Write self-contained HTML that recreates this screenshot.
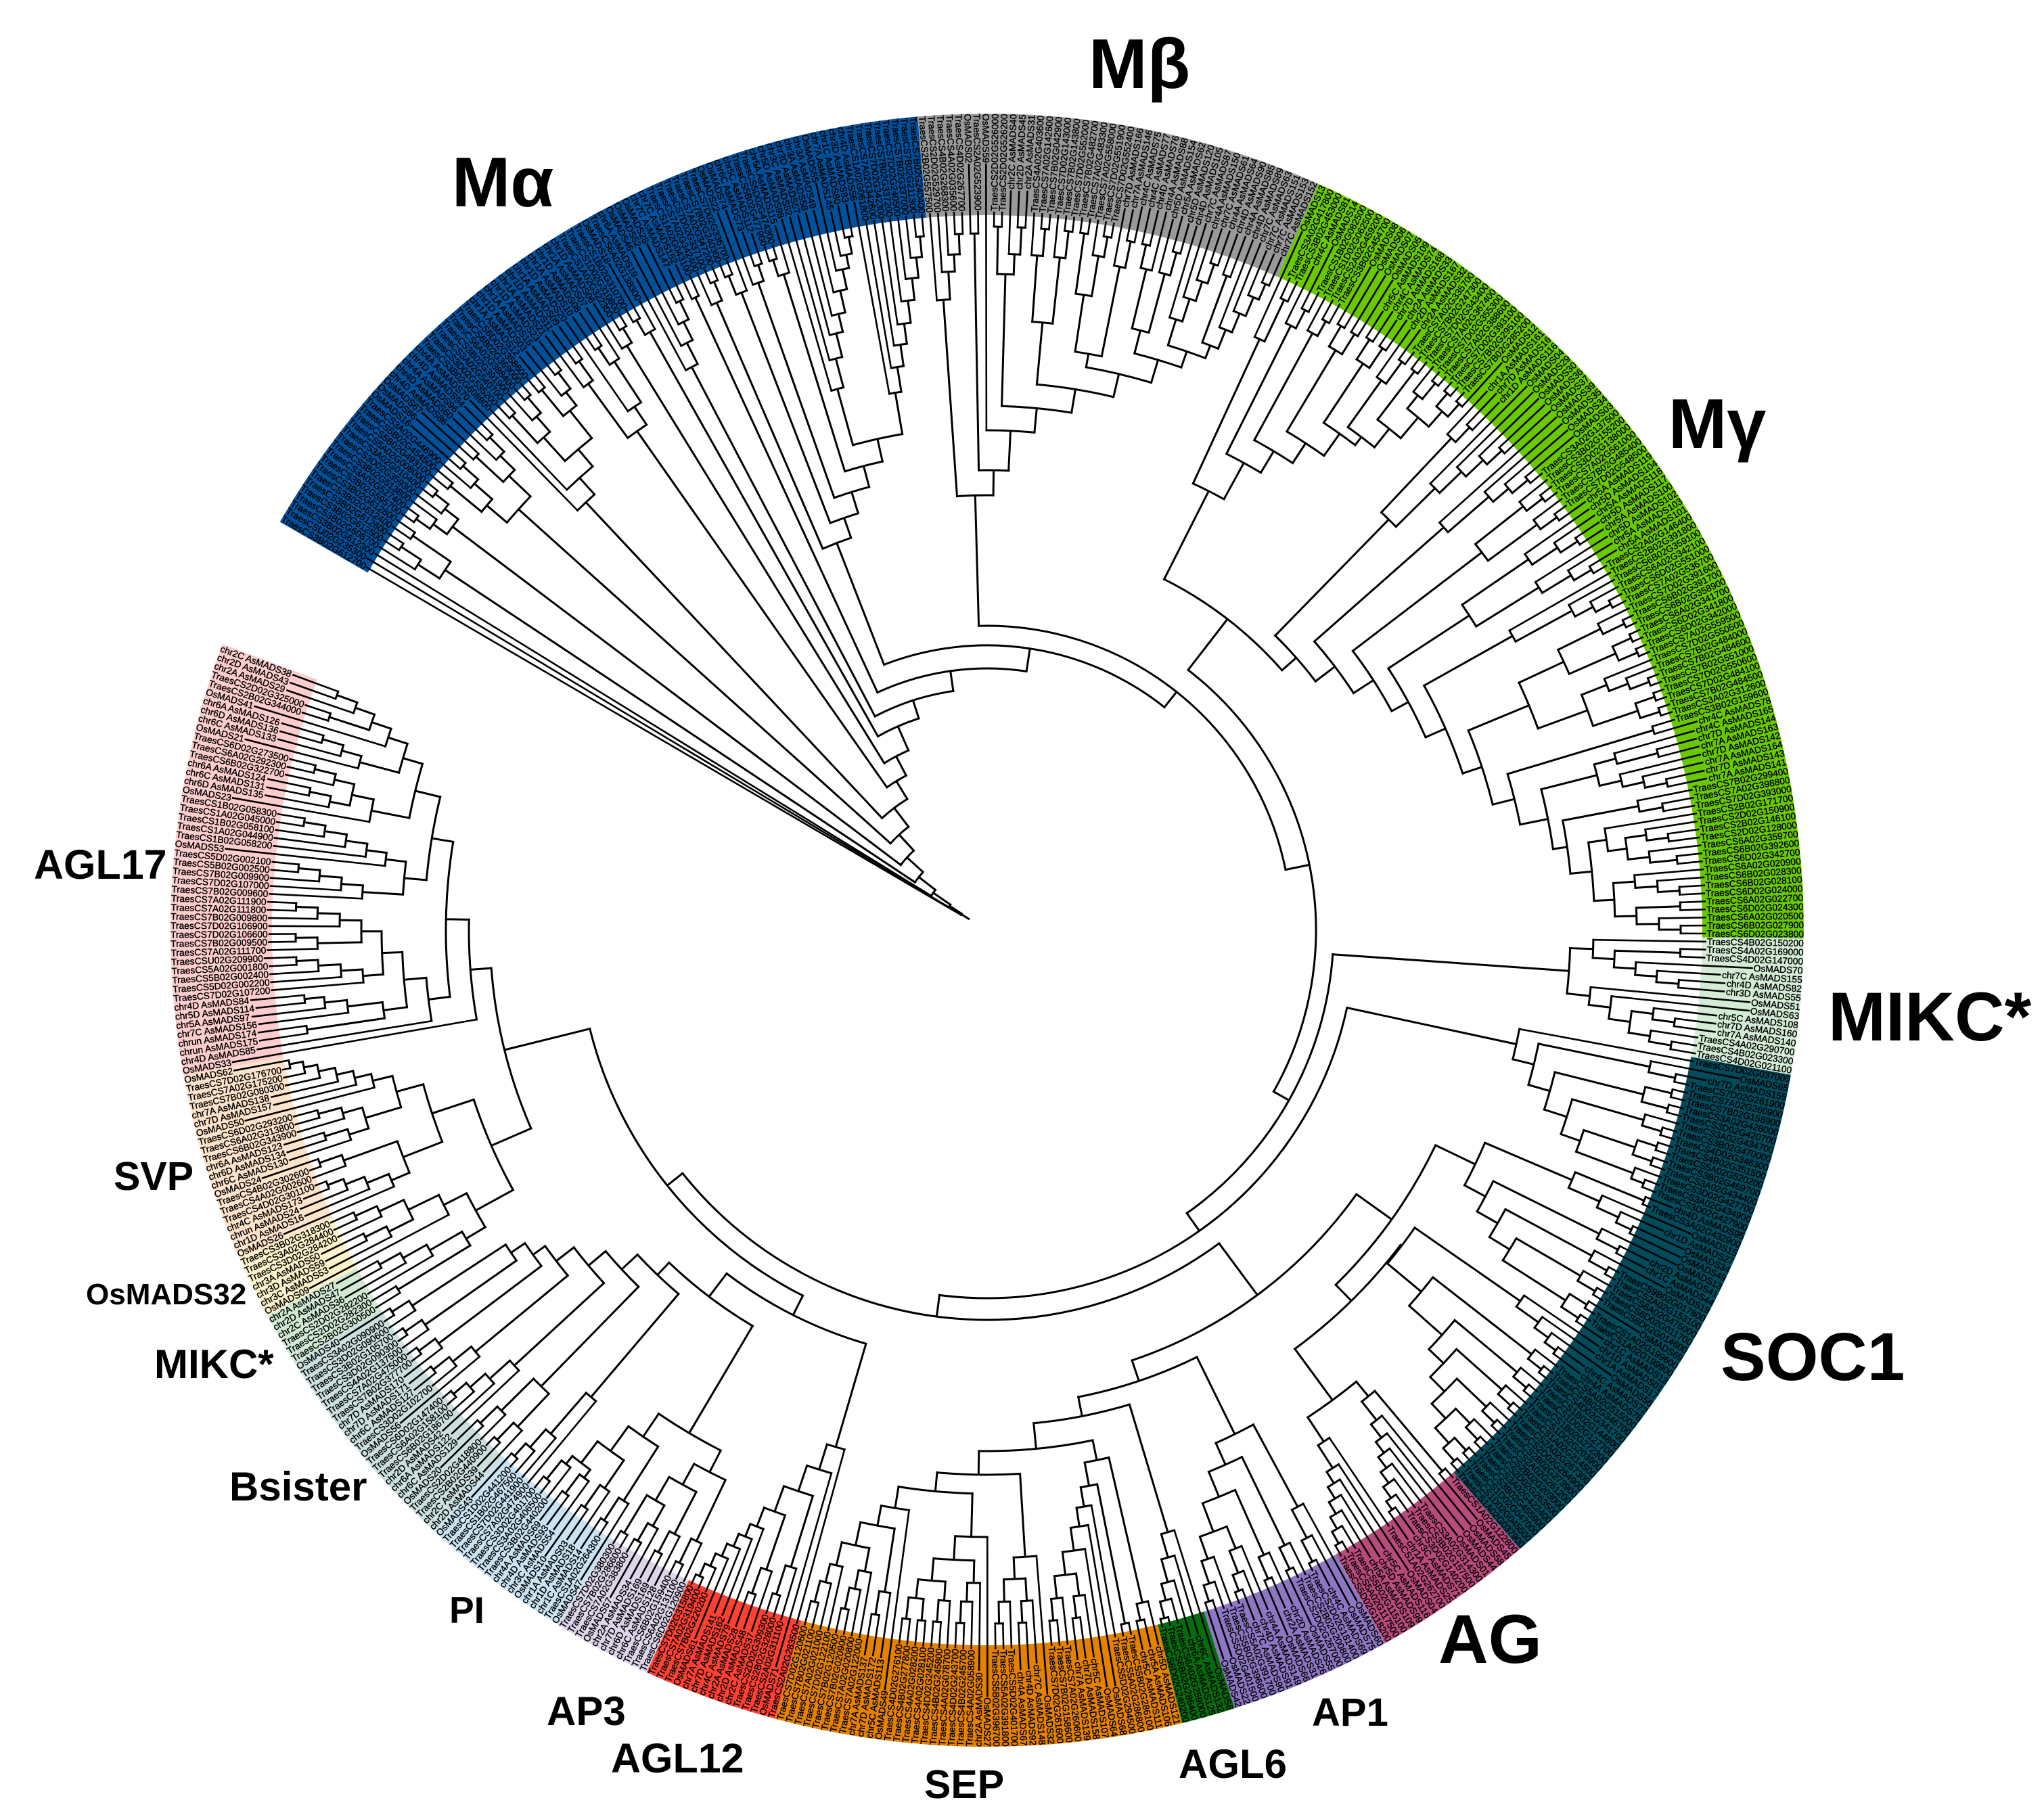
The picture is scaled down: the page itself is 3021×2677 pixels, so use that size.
<!DOCTYPE html>
<html lang="en">
<head>
<meta charset="utf-8">
<title>MADS-box phylogeny</title>
<style>
html,body{margin:0;padding:0;background:#fff}
#chart{display:block}
.leaf-label{font-family:"Liberation Sans",sans-serif;font-size:13.8px;fill:#000;stroke:#000;stroke-width:.38px}
.clade-label{font-family:"Liberation Sans",sans-serif;font-weight:bold;fill:#000}
.branch{fill:none;stroke:#000;stroke-width:3px;stroke-linejoin:miter;stroke-linecap:square}
.tip{fill:none;stroke:#000;stroke-width:2.6px}
.band-alpha{fill:#00509a}.band-beta{fill:#999999}.band-gamma{fill:#69c800}.band-mikcr{fill:#d4ecd5}
.band-soc1{fill:#004b5c}.band-ag{fill:#b94a7c}.band-ap1{fill:#8d77c4}.band-agl6{fill:#046c0c}
.band-sep{fill:#e48200}.band-agl12{fill:#fe4132}.band-ap3{fill:#dcd5ea}.band-pi{fill:#c9e3f3}
.band-bsister{fill:#cbdfde}.band-mikcl{fill:#d1e9d3}.band-os32{fill:#fcf1c8}.band-svp{fill:#fde3ca}.band-agl17{fill:#fdcdcd}
</style>
</head>
<body>
<svg id="chart" xmlns="http://www.w3.org/2000/svg" width="3021" height="2677" viewBox="0 0 3021 2677">
<rect width="3021" height="2677" fill="#fff"/>
<g id="bands"></g>
<g id="branches"></g>
<g id="labels"></g>
<g>
<text class="clade-label" x="743" y="305" font-size="104" text-anchor="middle">Mα</text>
<text class="clade-label" x="1684" y="130" font-size="104" text-anchor="middle">Mβ</text>
<text class="clade-label" x="2538" y="662" font-size="104" text-anchor="middle">Mγ</text>
<text class="clade-label" x="2702" y="1538" font-size="102">MIKC*</text>
<text class="clade-label" x="2543" y="2040" font-size="100">SOC1</text>
<text class="clade-label" x="2126" y="2458" font-size="102">AG</text>
<text class="clade-label" x="1939" y="2551" font-size="58">AP1</text>
<text class="clade-label" x="1742" y="2628" font-size="60">AGL6</text>
<text class="clade-label" x="1366" y="2658" font-size="59">SEP</text>
<text class="clade-label" x="903" y="2620" font-size="61">AGL12</text>
<text class="clade-label" x="808" y="2550" font-size="60">AP3</text>
<text class="clade-label" x="664" y="2399" font-size="55">PI</text>
<text class="clade-label" x="339" y="2218" font-size="60">Bsister</text>
<text class="clade-label" x="228" y="2037" font-size="60">MIKC*</text>
<text class="clade-label" x="127" y="1928" font-size="44">OsMADS32</text>
<text class="clade-label" x="168" y="1759" font-size="59">SVP</text>
<text class="clade-label" x="50" y="1299" font-size="61">AGL17</text>
</g>
</svg>
<script>
// ---------- leaf labels per clade, clockwise ----------
var alphaLabels=["TraesCS3B02G612700","TraesCSU02G235300","TraesCS3B02G612300","TraesCS3B02G608700","TraesCS3B02G612500","TraesCS3B02G612600","TraesCS3B02G612400","TraesCS3B02G612800","TraesCS3B02G595700","TraesCS3A02G527400",
"TraesCS3B02G513800","TraesCS3D02G359300","TraesCS3A02G010400","TraesCS5A02G008000","TraesCS5B02G493100","TraesCS5B02G454500","TraesCS3A02G446900","OsMADS16","OsMADS66","OsMADS67",
"chr4D AsMADS86","chr4D AsMADS60","chr4A AsMADS96","chr4D AsMADS94","chr4A AsMADS70","TraesCS3B02G608800","TraesCS3D02G535200","TraesCS3A02G540700","TraesCS3B02G391900","TraesCS6A02G388400",
"TraesCS6B02G369000","TraesCS6D02G358600","chr1A AsMADS12","chr1D AsMADS03","chr1A AsMADS15","chr1D AsMADS23","chr1A AsMADS21","chr1D AsMADS11","chr1A AsMADS09","chr1D AsMADS20",
"chr1A AsMADS10","chr1D AsMADS08","chr1A AsMADS07","chr1D AsMADS06","TraesCS1A02G322300","TraesCS1D02G310800","TraesCS1B02G310700","OsMADS18","TraesCS6A02G138300","chr6A AsMADS19",
"OsMADS46","OsMADS52","OsMADS28","chr7C AsMADS147","chr7C AsMADS152","TraesCS1A02G043100","TraesCS7A02G342400","TraesCS7D02G337100","TraesCS7A02G347200","TraesCS7B02G240300",
"TraesCS7D02G336700","OsMADS22","OsMADS74","chr6C AsMADS73","chr5C AsMADS112","TraesCS5B02G477900","TraesCS5D02G474300","chr5A AsMADS115","chr5D AsMADS98","chr3C AsMADS52",
"chr3D AsMADS57","chr3A AsMADS58","chr3A AsMADS49","OsMADS55","chr7A AsMADS145","chr1C AsMADS80","chr3D AsMADS83","chr4D AsMADS56","TraesCS1A02G061800","TraesCS7A02G342600",
"TraesCS7D02G342300","TraesCS7B02G337200","TraesCS7D02G240500","TraesCS7B02G337000","TraesCS7B02G211300","TraesCS7B02G240400"];
var betaLabels=["TraesCS2B02G557500","TraesCS2D02G529700","TraesCS4B02G268300","TraesCS4A02G035600","TraesCS4D02G267700","OsMADS02","TraesCS2A02G523900","OsMADS59","TraesCS2D02G526000","TraesCS2D02G526200",
"chr2C AsMADS40","chr2D AsMADS45","chr2A AsMADS31","TraesCS4A02G403600","TraesCS7A02G142600","TraesCS7B02G042900","TraesCS7D02G143000","TraesCS7B02G143800","TraesCS7D02G552000","TraesCS7B02G482700",
"TraesCS7A02G483300","TraesCS7A02G558000","TraesCS7D02G551900","TraesCS7D02G552400","chr7D AsMADS166","chr7A AsMADS146","chr4C AsMADS75","chr4C AsMADS77","chr4D AsMADS76","chr4A AsMADS88",
"chr5D AsMADS154","chr5A AsMADS62","chr5D AsMADS120","chr4D AsMADS105","chr7C AsMADS87","chr4A AsMADS150","chr7C AsMADS61","chr4A AsMADS64","chr4D AsMADS90","chr4A AsMADS85",
"chr4D AsMADS89","chr7C AsMADS63","chr7C AsMADS151","chr7C AsMADS153","chr7C AsMADS152"];
var gammaLabels=["OsMADS13","TraesCS3A02G417800","TraesCS3B02G453000","chr4C AsMADS81","OsMADS14","TraesCS1B02G082500","TraesCS1D02G062500","TraesCS2A02G459200","TraesCS3B02G454700","OsMADS08",
"OsMADS06","OsMADS07","OsMADS05","chr5C AsMADS109","chr4C AsMADS74","chr7D AsMADS168","chr2A AsMADS33","chr2D AsMADS167","chr2A AsMADS32","TraesCS7A02G335700",
"TraesCS7B02G247300","TraesCS7D02G343400","TraesCS7A02G367400","TraesCS7D02G355300","TraesCS7A02G388600","TraesCS7D02G393100","TraesCS7B02G295100","TraesCS7B02G285200","OsMADS12","chr1A AsMADS161",
"chr7D AsMADS16","chr1D AsMADS116","OsMADS04","OsMADS29","OsMADS30","OsMADS36","OsMADS37","OsMADS39","OsMADS35","OsMADS34",
"OsMADS03","TraesCS3A02G137500","TraesCS3B02G155200","TraesCS3D02G138000","TraesCS7A02G561000","TraesCS7B02G485400","TraesCS7D02G548500","chr5A AsMADS119","chr5D AsMADS104","chr5A AsMADS118",
"chr5D AsMADS117","chr5A AsMADS100","chr5D AsMADS102","chr5A AsMADS103","chr5A AsMADS101","TraesCS2A02G146400","TraesCS2B02G391800","TraesCS6B02G359100","TraesCS6A02G342100","TraesCS6D02G551000",
"TraesCS7A02G536700","TraesCS7D02G391600","TraesCS6B02G391700","TraesCS6B02G358900","TraesCS6A02G341700","TraesCS6D02G341800","TraesCS6D02G342000","TraesCS7A02G559500","TraesCS7D02G550500","TraesCS7B02G484000",
"TraesCS7B02G484600","TraesCS7B02G551000","TraesCS7D02G550600","TraesCS7D02G484100","TraesCS7B02G484500","TraesCS3A02G312600","TraesCS3B02G159600","chr4C AsMADS78","chr4C AsMADS165","chr7D AsMADS144",
"chr7A AsMADS163","chr7D AsMADS142","chr7A AsMADS164","chr7D AsMADS143","chr7A AsMADS141","TraesCS7B02G299400","TraesCS7A02G398800","TraesCS7D02G393000","TraesCS2B02G171700","TraesCS2D02G150900",
"TraesCS2B02G146100","TraesCS2D02G128000","TraesCS6A02G359700","TraesCS6B02G392600","TraesCS6D02G342700","TraesCS6A02G020900","TraesCS6B02G028300","TraesCS6B02G028100","TraesCS6D02G024000","TraesCS6A02G022700",
"TraesCS6D02G024300","TraesCS6A02G020500","TraesCS6B02G027900","TraesCS6D02G023800"];
var mikcRightLabels=["TraesCS4B02G150200","TraesCS4A02G169000","TraesCS4D02G147000","OsMADS70","chr7C AsMADS155","chr4D AsMADS82","chr3D AsMADS55","OsMADS51","OsMADS63","chr5C AsMADS108","chr7D AsMADS160","chr7A AsMADS140","TraesCS4A02G290700","TraesCS4B02G023300","TraesCS4D02G021100"];
var soc1Labels=["TraesCS7D02G037000","OsMADS65","chr7D AsMADS155","TraesCS7D02G261900","TraesCS7A02G260900","TraesCS7B02G158900","TraesCS3A02G428000","TraesCS3D02G420700","TraesCS3A02G434700","TraesCS3B02G470000",
"TraesCS4D02G346300","TraesCS4B02G351500","TraesCS5A02G520200","TraesCS3B02G469700","TraesCS3A02G434400","TraesCS3D02G427700","TraesCS3A02G434900","TraesCS3D02G427900","chr4D AsMADS95","TraesCS3A02G432900",
"OsMADS15","chr1D AsMADS27","OsMADS34","OsMADS49","OsMADS13","chr2D AsMADS41","chr1C AsMADS44","OsMADS19","TraesCS9B02G017800","TraesCS2A02G153100",
"TraesCS6A02G475000","TraesCS6D02G011700","TraesCS6D02G014600","OsMADS69","TraesCS1A02G199600","TraesCS1A02G199900","chr1C AsMADS13","chr1D AsMADS01","chr1A AsMADS17","OsMADS56",
"chr4C AsMADS72","chr4A AsMADS78","TraesCS5A02G515000","TraesCS4B02G346700","TraesCS4D02G341700","TraesCS1B02G144800","TraesCS1D02G127700","TraesCS1B02G272300","TraesCS1D02G203900","TraesCS1A02G214500",
"TraesCS2A02G267300","TraesCS2D02G264900","TraesCS2B02G273900","TraesCS2A02G261200","TraesCS2B02G203000","TraesCS2D02G263500","TraesCS3A02G422400","TraesCS3B02G455900","TraesCS1D02G047000","TraesCS1D02G045500",
"TraesCS1A02G037900"];
var agLabels=["TraesCS1A02G122800","OsMADS45","OsMADS58","OsMADS44","OsMADS01","TraesCS3A02G314300","TraesCS3B02G157500","TraesCS3D02G140200","chr3C AsMADS71","chr1A AsMADS25","TraesCS1A02G262700","OsMADS04","chr5C AsMADS116","chr5D AsMADS99","chr5A AsMADS109","TraesCS5B02G115100","TraesCS5A02G117500","TraesCS5D02G118200"];
var ap1Labels=["OsMADS60","OsMADS75","chr4C AsMADS69","TraesCS2D02G181400","TraesCS2B02G200800","TraesCS2D02G267000","OsMADS55","chr2D AsMADS26","chr2A AsMADS31","OsMADS66","chr4A AsMADS149","chr4D AsMADS91","chr7C AsMADS90","TraesCS5A02G391700","TraesCS5B02G396600","TraesCS5D02G401500","OsMADS22","OsMADS42"];
var agl6Labels=["OsMADS6","chr6C AsMADS132","chr6A AsMADS125","TraesCS6A02G259000","TraesCS6B02G286400","TraesCS6D02G240200"];
var sepLabels=["chr5D AsMADS121","chr5A AsMADS106","chr5C AsMADS111","TraesCS5B02G286100","TraesCS5A02G286800","TraesCS5D02G294500","OsMADS68","OsMADS64","chr5C AsMADS107","chr7D AsMADS158",
"chr7A AsMADS139","TraesCS7A02G260600","TraesCS7B02G158600","TraesCS7D02G261600","OsMADS32","chr7C AsMADS148","chr4D AsMADS92","chr4A AsMADS67","TraesCS5D02G401700","TraesCS5A02G391800",
"TraesCS5B02G396700","OsMADS27","chr2A AsMADS30","TraesCS4A02G058900","TraesCS4B02G245700","TraesCS4D02G243700","TraesCS4A02G078700","TraesCS4B02G245800","TraesCS4D02G245200","TraesCS4A02G028100",
"TraesCS4A02G028200","TraesCS4B02G277800","TraesCS4D02G276100","OsMADS49","chr5C AsMADS113","chr7D AsMADS172","chr7A AsMADS137","TraesCS7A02G122000","TraesCS7A02G020800","TraesCS7B02G020900",
"TraesCS7B02G120500","TraesCS7D02G122100","TraesCS7A02G021000","TraesCS7B02G021100","TraesCS7D02G120600"];
var agl12Labels=["TraesCS2A02G283500","OsMADS71","TraesCS2A02G311100","TraesCS2B02G328000","TraesCS2D02G309300","chr2C AsMADS37","chr2D AsMADS48","chr2A AsMADS28","chr4C AsMADS79","chr7D AsMADS162","chr7A AsMADS141","OsMADS61","TraesCS7B02G220200","TraesCS7A02G319400","TraesCS7D02G315800"];
var ap3Labels=["TraesCS6D02G120900","TraesCS6A02G131100","TraesCS6B02G159400","chr6C AsMADS128","chr6D AsMADS169","chr7D AsMADS169","chr2A AsMADS34","OsMADS57","TraesCS7A02G383800","TraesCS7B02G286600","TraesCS7D02G380300"];
var piLabels=["OsMADS47","TraesCS1A02G264300","chr1C AsMADS14","chr1D AsMADS18","chr1A AsMADS03","OsMADS10","chr3C AsMADS54","chr4D AsMADS93","chr4A AsMADS69","TraesCS3B02G440200","TraesCS3A02G406500","TraesCS3D02G401700","TraesCS7A02G474900","TraesCS7D02G441900","TraesCS1B02G467500","TraesCS1D02G441200","OsMADS43"];
var bsisterLabels=["chr2D AsMADS44","chr2C AsMADS39","TraesCS2B02G440900","TraesCS2D02G418800","OsMADS20","chr6C AsMADS129","chr6A AsMADS122","chr2D AsMADS42","TraesCS6B02G186700","TraesCS6A02G158100","TraesCS6D02G147400","OsMADS56","TraesCS3D02G102700","chr6C AsMADS127","chr7D AsMADS171","chr7D AsMADS170","TraesCS7B02G377700","TraesCS7A02G475000","TraesCS4A02G137500","TraesCS3D02G090300","TraesCS3B02G105700","TraesCS3D02G090600","TraesCS3A02G090900","OsMADS40"];
var mikcLeftLabels=["TraesCS2B02G300500","TraesCS2D02G282300","TraesCS2D02G282200","chr2C AsMADS36","chr2D AsMADS47","chr2A AsMADS27"];
var os32Labels=["OsMADS09","chr3C AsMADS53","chr3D AsMADS59","chr3A AsMADS50","TraesCS3D02G284200","TraesCS3A02G284400","TraesCS3B02G318300"];
var svpLabels=["OsMADS26","chr1D AsMADS16","chrun AsMADS24","chr4C AsMADS173","TraesCS4D02G301100","TraesCS4A02G002600","TraesCS4B02G302600","OsMADS24","chr6C AsMADS130","chr6D AsMADS134","chr6A AsMADS123","TraesCS6B02G343900","TraesCS6A02G313800","TraesCS6D02G293200","OsMADS50","chr7D AsMADS157","chr7A AsMADS138","TraesCS7B02G080300","TraesCS7A02G175200","TraesCS7D02G176700","OsMADS62"];
var agl17Labels=["OsMADS33","chr4D AsMADS85","chrun AsMADS175","chrun AsMADS174","chr7C AsMADS156","chr5A AsMADS97","chr5D AsMADS114","chr4D AsMADS84",
"TraesCS7D02G107200","TraesCS5D02G002200","TraesCS5B02G002400","TraesCS5A02G001800","TraesCSU02G209900","TraesCS7A02G111700","TraesCS7B02G009500","TraesCS7D02G106600","TraesCS7D02G106900","TraesCS7B02G009800","TraesCS7A02G111800","TraesCS7A02G111900",
"TraesCS7B02G009600","TraesCS7D02G107000","TraesCS7B02G009900","TraesCS5B02G002500","TraesCS5D02G002100","OsMADS53","TraesCS1B02G058200","TraesCS1A02G044900","TraesCS1B02G058100","TraesCS1A02G045000","TraesCS1B02G058300",
"OsMADS23","chr6D AsMADS135","chr6C AsMADS131","chr6A AsMADS124","TraesCS6B02G322700","TraesCS6A02G292300","TraesCS6D02G273500",
"OsMADS21","chr6C AsMADS133","chr6D AsMADS136","chr6A AsMADS126","OsMADS41","TraesCS2B02G344000","TraesCS2D02G325000","chr2A AsMADS29","chr2D AsMADS43","chr2C AsMADS38"];

var cladeKeys=["alpha","beta","gamma","mikcr","soc1","ag","ap1","agl6","sep","agl12","ap3","pi","bsister","mikcl","os32","svp","agl17"];
var cladeLabels=[alphaLabels,betaLabels,gammaLabels,mikcRightLabels,soc1Labels,agLabels,ap1Labels,agl6Labels,sepLabels,agl12Labels,ap3Labels,piLabels,bsisterLabels,mikcLeftLabels,os32Labels,svpLabels,agl17Labels];

// ---------- tree topology: "*" = next leaf, "(...)d" = internal node at depth d ----------
// M-alpha
var A1="((*(**)1035)1000(**)1030)962";
var A2="(((**)1040*)1015(*(**)1040)1015)990";
var B="(((**)1030(*(**)1035)1005)970((**)1030(*(**)1035)1005)975)931";
var C="(*(*(((**)1035(*(**)1040)1010)980((**)1035(*(**)1040)1010)985)933)900)867";
var D="((*(**)1035)1000(*((**)1035*)1005)933)901";
var E="(*(**)1040)1015";
var F="((**)1040*)1015";
var G="(*(*(*(**)1035)1005)975)940";
var I="(**)1030";
var Pa="(*(*(*(*(*(*(*(**)1045)1020)1000)970)937)910)874)830";
var Pb="(*(*(*(*(*(*(*(**)1030)1000)970)938)905)875)843)806";
var H="((*(**)1040)1010(((**)1040*)1010((*(**)1040)1015(((**)1040*)1015("+Pa+Pb+")744)710)678)645)614";
// M-beta
var G0="(*(*(*(**)1030)1000)975)934";
var G1="(**)1030";
var G2="((**)1040(*(**)1040)1000)970";
var G3="((*(**)1040)1000(*(**)1040)1000)902";
var G4="(((**)1040(*(**)1040)1010)950(*(**)1040)1000)865";
var G5="(((**)1040*)1005(*(**)1040)1005)915";
var G6="(*(*(*(**)1040)1010)980)945";
var G7="((**)1030(*(*(*(**)1040)1015)985)955)925";
var mBeta="("+G0+"("+G1+"(*("+G2+"("+G3+"("+G4+"("+G5+"("+G6+G7+")905)880)845)810)775)739)680)643";
// M-gamma
var mg1="((*(**)1030)962((*(**)1030)1000((*(**)1030)1005(((**)1035(**)1035)1000(((**)1040(**)1040)1005((*(**)1040)1000((**)1040((*(**)1045)1015((**)1045(**)1045)1020)990)950)915)900)860)825)788)727";
var n1L="((*(**)1030)1000(*(*(*(**)1040)1010)975)930)849";
var n2L="(*(*(*(**)1040)1010)980)900";
var n3L="((*(**)1040)1010(*(**)1040)1010)920";
var n4L="((*(*(**)1045)1015)970(*(*(**)1040)1010)960)851";
var n5L="(*(*(*(**)1040)1015)985)890";
var n6L="(((*(**)1045)1010((**)1045(**)1045)1015)940((*(*(**)1045)1015)985((**)1045(**)1045)1015)945)867";
var n7L="(**)1028";
var n930c="((*(**)1025)963(*(*(**)1028)995)963)930";
var n866="((*(**)1015)980((*((*(**)1016)984(*(**)1025)985)953)925((*(*(**)1025)993)960((**)1025(*(**)1025)993)960)928)898)866";
var mGamma="("+mg1+"("+n1L+"("+n2L+"("+n3L+"("+n4L+"("+n5L+"("+n6L+"("+n7L+"("+n930c+n866+")845)803)770)740)708)680)645)609)581";
// MIKC* right
var mikcR="((*((**)1025(*(*(**)1025)992)960)928)896(*(*((*(**)1025)992(*(**)1025)992)960)928)896)862";
// SOC1
var socA="(*((*(**)1040)1000(((**)1040(**)1040)1000((*(**)1040)1010(((**)1040(**)1040)1010(*(**)1040)1020)930)900)865)832)800";
var socB="(((**)1050(*(*(**)1050)1025)990)940((*(**)1045)1010((*(**)1045)1015((*(**)1045)1015((**)1045(**)1045)1015)905)870)835)800";
var socC="((*(*(*(**)1045)1025)1000)960((*(**)1045)1020((*(**)1045)1020((*(**)1045)1020((*(**)1045)1020((*(**)1045)1020((**)1045(**)1045)1020)990)960)930)900)835)770";
// AG, AP1, AGL6
var ag1="((**)1045(*(*(*(*(*(*(**)1045)1030)1010)990)970)950)925)890";
var ag2="(*(*(*(*(*(*(**)1045)1025)1005)985)965)945)905";
var ap1a="(*(*(**)1050)1015)968";
var ap1b="((*(**)1045)1010((*(**)1045)1010((*(*(**)1045)1020)985(*(*(**)1045)1020)985)950)905)865";
var agl6="(*(*(*(*(**)1050)1025)1000)965)929";
// SEP
var sepA="((*(**)1045)1020((**)1045(*(*(*((*(**)1025)993(*(**)1025)993)960)926)892)864)835)800";
var sepB="(*((*(**)1025)993(*(**)1025)993)960)928";
var sepC="(*((*(*(**)1025)993)965((*(**)1025)993((**)1025(**)1025)993)965)932)897";
var sepD="(*((*(**)1025)990((*(*(**)1025)993)965(*(*(**)1025)993)965)930)895)865";
// AGL12, AP3, PI, Bsister
var agl12="(*(*((*(**)1030)985((*(**)1040)1000(*(*(*(*(*(**)1045)1025)1005)985)965)945)915)875)835)796";
var ap3="((*(**)1040)1000((*(**)1040)1005((*(**)1040)1010(**)1040)975)935)900";
var pi1="((*(**)1040)1000((*(**)1040)1000((*(**)1040)1005(*(**)1040)1005)990)950)905";
var bsA="(*(*(*(**)1045)1020)985)905";
var bsB="((*(**)1045)1010(*(**)1045)1010)943";
var bsC="(*(*(*(**)1045)1020)990)950";
var bsD="(*(*(**)1045)1015)980";
var bsE="(*(**)1045)1015";
var bsF="(*(**)1045)1015";
var bsG="(*(**)1045)1015";
// MIKC* left, OsMADS32, SVP, AGL17
var mikcL="((**)1020(*(*(**)1025)990)950)895";
var os32="(*((*(**)1025)990(*(**)1025)990)950)900";
var svpLow="((*(*(*(**)1045)1020)990)955(*(**)1045)1010)926";
var svpUp="(((*(**)1025)990(*(**)1025)990)960(*(*(*(*(*(**)1050)1030)1010)985)960)935)905";
var chrG="((**)1016(*(*(**)1014)985)952)900";
var n895a="((*(*(*(**)1022)990)957)925((*(**)1022)990(*(*(**)1022)990)957)925)895";
var n865b="((*(*(*(**)1022)990)957)925(*(*(*(*(**)1022)990)957)925)895)865";
var n870="((*((*(**)1022)990(*(**)1022)990)960)927((*(*(**)1022)990)960(*((**)1022(*(**)1022)990)960)930)900)870";
var n766="(*((*("+chrG+n895a+")865)832("+n865b+n870+")832)800)766";

// backbone assembly
var n733a="("+socB+"("+socC+"("+ag1+ag2+")862)768)735";
var n833="(" +sepC+sepD+")833";
var n805="("+sepB+n833+")805";
var n770s="("+sepA+n805+")770";
var n732="("+agl6+n770s+")732";
var n830="("+ap1a+ap1b+")830";
var n703="("+n830+n732+")703";
var n671="("+n733a+n703+")671";
var n705="("+bsA+"("+bsB+"("+bsC+"("+bsD+"("+bsE+"("+bsF+bsG+")850)825)803)770)737)705";
var n680="(("+ap3+pi1+")864"+n705+")680";
var n637="("+agl12+n680+")637";
var n799="(("+mikcL+os32+")862("+svpLow+svpUp+")864)799";
var n733b="("+n799+n766+")735";
var n605="("+n637+n733b+")605";
var n576="("+n671+n605+")576";
var n544="("+socA+n576+")544";
var n512="("+mikcR+n544+")512";
var n486="("+mGamma+n512+")486";
var n450="("+mBeta+n486+")450";
var n421="("+H+n450+")421";
var n387="("+I+n421+")387";
var n357="("+G+n387+")357";
var n329="("+F+n357+")329";
var n290="("+E+n329+")290";
var n258="("+D+n290+")258";
var n227="("+C+n258+")227";
var n192="("+B+n227+")192";
var n160="("+A2+n192+")160";
var n128="("+A1+n160+")128";
var fullTree="(*(*(*"+n128+")97)66)45";

// ---------- axis functions ----------
var NS="http://www.w3.org/2000/svg";
var cx=1459, cy=1375, outerR=1207, bandInner=1057, startDeg=210, stepDeg=0.6408, rootStem=32;
function angleOf(i){return startDeg+(i+0.5)*stepDeg;}
function radiusOf(d){return d;}
function px(a,r){var t=a*Math.PI/180;return [cx+r*Math.cos(t),cy+r*Math.sin(t)];}
function fmt(p){return p[0].toFixed(1)+" "+p[1].toFixed(1);}

var allLabels=[];
cladeLabels.forEach(function(l){allLabels=allLabels.concat(l);});

// bands
var bandsG=document.getElementById("bands");
var offset=0;
cladeKeys.forEach(function(key,k){
  var a0=startDeg+offset*stepDeg, a1=startDeg+(offset+cladeLabels[k].length)*stepDeg;
  var p=document.createElementNS(NS,"path");
  p.setAttribute("d","M"+fmt(px(a0,bandInner))+"L"+fmt(px(a0,outerR))+"A"+outerR+" "+outerR+" 0 0 1 "+fmt(px(a1,outerR))+"L"+fmt(px(a1,bandInner))+"A"+bandInner+" "+bandInner+" 0 0 0 "+fmt(px(a0,bandInner))+"Z");
  p.setAttribute("class","band-"+key);
  
  
  bandsG.appendChild(p);
  offset+=cladeLabels[k].length;
});

// parse tree
function parseTree(src){
  var s=src.replace(/\s/g,""),i=0,leaf=0;
  function node(){
    i++;
    var n={kids:[],r:0};
    while(i<s.length&&s[i]!==")"){
      if(s[i]==="*"){n.kids.push({leaf:leaf++});i++;}
      else if(s[i]==="("){n.kids.push(node());}
      else i++;
    }
    i++;
    var j=i;
    while(i<s.length&&/[0-9]/.test(s[i]))i++;
    n.r=+s.slice(j,i);
    return n;
  }
  return node();
}
var root=parseTree(fullTree);

function setAngles(n){
  if(n.leaf!==undefined){n.a=angleOf(n.leaf);return n.a;}
  var first=null,last=null;
  n.kids.forEach(function(k){var a=setAngles(k);if(first===null)first=a;last=a;});
  n.first=first;n.last=last;n.a=(first+last)/2;
  return n.a;
}
setAngles(root);

// text measure
var mctx=document.createElement("canvas").getContext("2d");
mctx.font='13.8px "Liberation Sans", sans-serif';
function labelWidth(t){return mctx.measureText(t).width;}

var branchG=document.getElementById("branches"), labelG=document.getElementById("labels");

function drawNode(n,parentR){
  if(n.leaf!==undefined){
    var text=allLabels[n.leaf]||"";
    var endR=outerR-labelWidth(text)-1;
    var l=document.createElementNS(NS,"path");
    l.setAttribute("d","M"+fmt(px(n.a,radiusOf(parentR)))+"L"+fmt(px(n.a,endR)));
    l.setAttribute("class","tip");
    
    
    branchG.appendChild(l);
    var t=document.createElementNS(NS,"text");
    var pos=px(n.a,outerR);
    var right=Math.cos(n.a*Math.PI/180)>=0;
    var rot=right?n.a:n.a-180;
    t.setAttribute("transform","translate("+pos[0].toFixed(1)+" "+pos[1].toFixed(1)+") rotate("+rot.toFixed(2)+")");
    t.setAttribute("text-anchor",right?"end":"start");
    t.setAttribute("dy","0.35em");
    t.setAttribute("class","leaf-label");
    
    
    t.textContent=text;
    labelG.appendChild(t);
    return;
  }
  var r=radiusOf(n.r);
  var large=(n.last-n.first)>180?1:0;
  var d="M"+fmt(px(n.a,radiusOf(parentR)))+"L"+fmt(px(n.a,r))+"M"+fmt(px(n.first,r))+"A"+r+" "+r+" 0 "+large+" 1 "+fmt(px(n.last,r));
  var b=document.createElementNS(NS,"path");
  b.setAttribute("d",d);
  b.setAttribute("class","branch");
  
  
  branchG.appendChild(b);
  n.kids.forEach(function(k){drawNode(k,n.r);});
}
drawNode(root,rootStem);
</script>
</body>
</html>
